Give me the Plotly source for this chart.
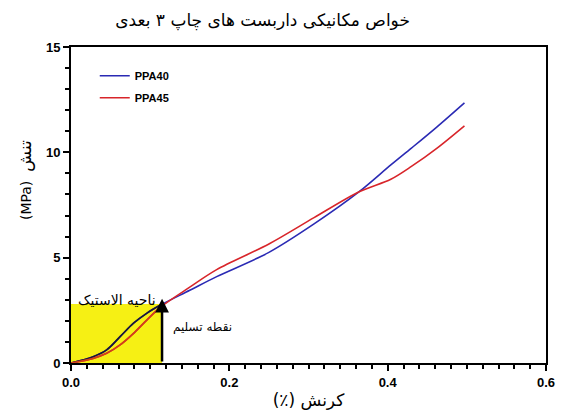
import plotly.graph_objects as go

strain = [0, 0.028, 0.045, 0.062, 0.079, 0.096, 0.113, 0.15, 0.184, 0.25,
          0.307, 0.364, 0.404, 0.43, 0.462, 0.497]
ppa40 = [0, 0.3, 0.62, 1.25, 1.89, 2.37, 2.75, 3.45, 4.1, 5.25,
         6.6, 8.13, 9.4, 10.2, 11.2, 12.35]
ppa45 = [0, 0.22, 0.46, 0.86, 1.41, 2.05, 2.65, 3.6, 4.43, 5.65,
         6.9, 8.13, 8.72, 9.33, 10.19, 11.26]

elastic_x = [0, 0.115]
elastic_y = [0, 2.8]
yield_x = 0.115
yield_y = 3.05

title_text = "خواص مکانیکی داربست های چاپ ۳ بعدی"
x_title = "(٪) کرنش"
y_unit = "(MPa)"
y_word = "تنش"
elastic_label = "ناحیه الاستیک"
yield_label = "نقطه تسلیم"

fig = go.Figure()

fig.add_shape(type="rect", x0=elastic_x[0], x1=elastic_x[1], y0=elastic_y[0], y1=elastic_y[1],
              xref="x", yref="y", fillcolor="#f6f014", line=dict(width=0), layer="below")

fig.add_trace(go.Scatter(x=strain, y=ppa40, mode="lines", name="PPA40", legendgroup="a",
                         line=dict(color="#2a2ab4", width=1.6, shape="spline", smoothing=0.9)))
fig.add_trace(go.Scatter(x=strain, y=ppa45, mode="lines", name="PPA45", legendgroup="b",
                         line=dict(color="#d8252a", width=1.6, shape="spline", smoothing=0.9)))

# portions inside the yellow elastic region appear darker
n_el = sum(1 for v in strain if v <= elastic_x[1])
fig.add_trace(go.Scatter(x=strain[:n_el], y=ppa40[:n_el], mode="lines", showlegend=False,
                         line=dict(color="#1c1a30", width=1.6, shape="spline", smoothing=0.9)))
fig.add_trace(go.Scatter(x=strain[:n_el], y=ppa45[:n_el], mode="lines", showlegend=False,
                         line=dict(color="#d2401a", width=1.6, shape="spline", smoothing=0.9)))

tickfont = dict(family="Liberation Sans, Arial", size=13, color="black", weight="bold")

fig.update_xaxes(range=[0, 0.6], dtick=0.2, tickformat=".1f", showgrid=False, zeroline=False,
                 showline=True, linecolor="black", linewidth=2, mirror=True, automargin=False,
                 ticks="outside", ticklen=6, tickwidth=2, tickcolor="black", tickfont=tickfont,
                 minor=dict(dtick=0.02, ticks="outside", ticklen=4, tickwidth=2, tickcolor="black"))
fig.update_yaxes(range=[0, 15], dtick=5, showgrid=False, zeroline=False,
                 showline=True, linecolor="black", linewidth=2, mirror=True, automargin=False,
                 ticks="outside", ticklen=6, tickwidth=2, tickcolor="black", tickfont=tickfont,
                 minor=dict(dtick=1, ticks="outside", ticklen=4, tickwidth=2, tickcolor="black"))

fig.add_annotation(x=yield_x, y=yield_y, ax=yield_x, ay=0, xref="x", yref="y", axref="x", ayref="y",
                   showarrow=True, arrowhead=2, arrowsize=1.1, arrowwidth=2.5, arrowcolor="black", text="")

fig.add_annotation(x=0.058, y=3.0, xref="x", yref="y", text=elastic_label, showarrow=False,
                   font=dict(family="DejaVu Sans", size=14, color="black"))
fig.add_annotation(x=0.1265, y=1.7, xref="x", yref="y", text=yield_label, showarrow=False, xanchor="left",
                   font=dict(family="DejaVu Sans", size=12, color="black"))

fig.add_annotation(x=-0.122, y=0.579, xref="paper", yref="paper",
                   text=f"<span style='font-size:14px'>{y_unit}</span>  <span style='font-size:17px'>{y_word}</span>",
                   textangle=-90, showarrow=False,
                   font=dict(family="DejaVu Sans", size=14, color="black"))

fig.update_layout(
    width=562, height=404,
    margin=dict(l=63, r=24, t=39, b=49),
    paper_bgcolor="white", plot_bgcolor="white",
    title=dict(text=title_text, x=0.453, xref="container", xanchor="center", y=0.97, yref="container",
               yanchor="middle",
               font=dict(family="DejaVu Sans", size=17, color="black")),
    xaxis_title=dict(text=x_title, font=dict(family="DejaVu Sans", size=17, color="black"), standoff=6),
    legend=dict(x=0.05, y=0.955, xanchor="left", yanchor="top", bgcolor="rgba(0,0,0,0)",
                font=dict(family="Liberation Sans, Arial", size=11, color="black", weight="bold"),
                itemwidth=30, tracegroupgap=3),
    showlegend=True,
)

fig.write_html("out.html")
